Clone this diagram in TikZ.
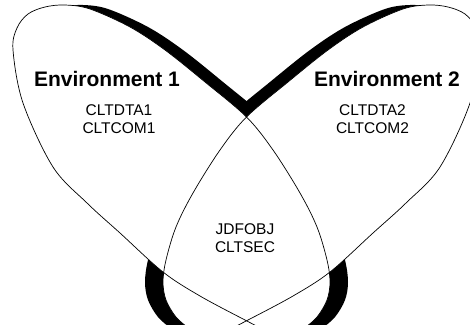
\documentclass[tikz,border=0pt]{standalone}
\usepackage{fontspec}
\setmainfont{Liberation Sans}

\tikzset{
  envtitle/.style={anchor=base, font=\fontsize{21}{25}\selectfont\bfseries},
  libname/.style={anchor=base, font=\fontsize{15.5}{18}\selectfont},
  leaf/.pic={
    \path[pic actions] plot[smooth cycle, tension=0.55] coordinates {
      (13,50) (17,28) (28,14) (45,7) (65,5) (90,9) (130,27) (165,50)
      (205,82) (246.5,117) (273,150) (300,193) (317,227) (327,260)
      (330,282) (327,300) (317,317) (303,329) (287,338) (267,331)
      (245,320) (200,296) (163,272) (120,233) (87,203) (53,167) (23,103)};
  }
}

\begin{document}
\begin{tikzpicture}[x=1pt, y=-1pt]

  \useasboundingbox (0,0) rectangle (470,324);

  % Schatten (dicker Rand)
  \pic[fill=black] at (18,0) {leaf};
  \pic[fill=black, xscale=-1] at (475,0) {leaf};

  % Blaetter weiss fuellen
  \pic[fill=white] at (0,0) {leaf};
  \pic[fill=white, xscale=-1] at (493,0) {leaf};

  % Umrisse
  \pic[draw=black, line width=0.7pt] at (0,0) {leaf};
  \pic[draw=black, line width=0.7pt, xscale=-1] at (493,0) {leaf};

  % Beschriftung links
  \node[envtitle] (env1) at (107,86) {Environment 1};
  \node[libname] (dta1) at (119,115) {CLTDTA1};
  \node[libname] (com1) at (119,133.5) {CLTCOM1};

  % Beschriftung rechts
  \node[envtitle] (env2) at (387,86) {Environment 2};
  \node[libname] (dta2) at (372.5,115) {CLTDTA2};
  \node[libname] (com2) at (372.5,133.5) {CLTCOM2};

  % Schnittmenge
  \node[libname] (jdf) at (245,234) {JDFOBJ};
  \node[libname] (sec) at (245,252.5) {CLTSEC};

\end{tikzpicture}
\end{document}
